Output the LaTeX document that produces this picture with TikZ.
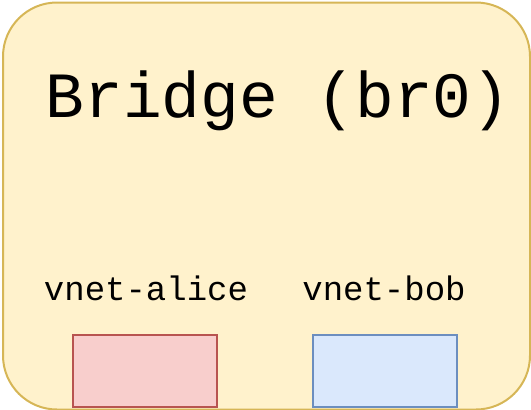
\documentclass[tikz,border=0pt]{standalone}
\usepackage{fontspec}
\setmonofont{Liberation Mono}
\definecolor{BrFill}{HTML}{FFF2CC}
\definecolor{BrLine}{HTML}{D6B656}
\definecolor{AliceFill}{HTML}{F8CECC}
\definecolor{AliceLine}{HTML}{B85450}
\definecolor{BobFill}{HTML}{DAE8FC}
\definecolor{BobLine}{HTML}{6C8EBF}
\usetikzlibrary{positioning}

\begin{document}
\begin{tikzpicture}[x=1pt, y=-1pt,
    port/.style={draw, line width=2pt, minimum width=144pt, minimum height=72pt, inner sep=0pt, anchor=south},
    label/.style={font=\ttfamily\fontsize{34}{34}\selectfont, anchor=base, inner sep=0pt}]
    \useasboundingbox (0,0) rectangle (531,410);
    \node[draw=BrLine, fill=BrFill, line width=2pt, rounded corners=54pt, minimum width=527pt, minimum height=407pt, inner sep=0pt, anchor=north west] (bridge) at (2,1.5) {};
    \node[font=\ttfamily\fontsize{64.5}{64.5}\selectfont, anchor=base, inner sep=0pt] (title) at (278,117) {Bridge (br0)};
    \node[port, draw=AliceLine, fill=AliceFill] (alice) at (145,408) {};
    \node[port, draw=BobLine, fill=BobFill] (bob) at (385,408) {};
    \node[label] (alicelbl) at (146,300) {vnet-alice};
    \node[label] (boblbl) at (384,300) {vnet-bob};
\end{tikzpicture}
\end{document}
